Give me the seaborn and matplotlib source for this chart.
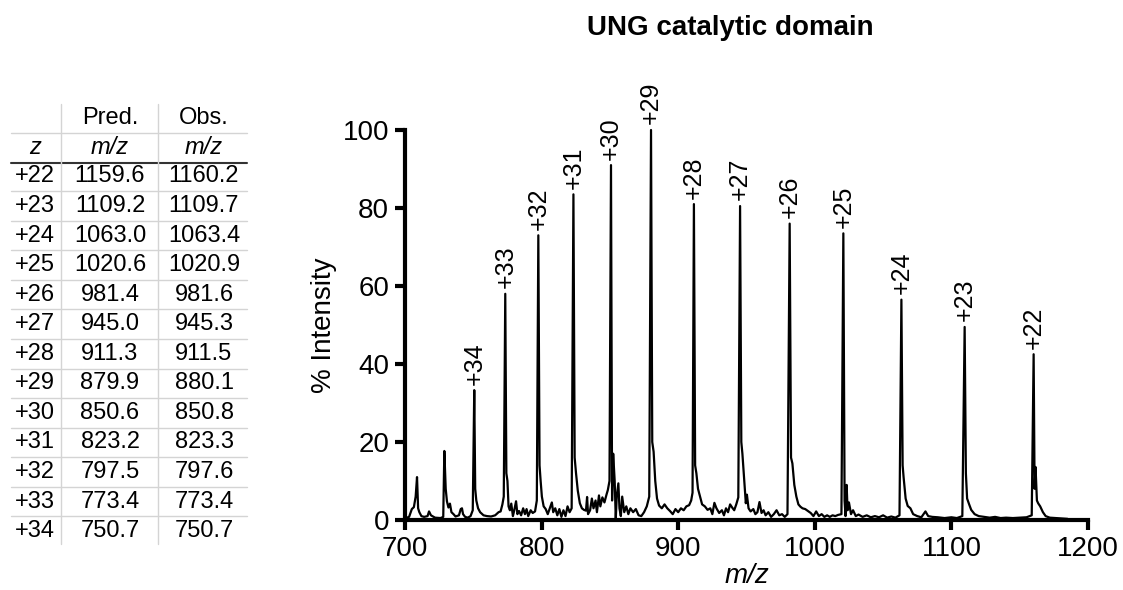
import matplotlib
matplotlib.use("Agg")
import matplotlib.pyplot as plt
import seaborn as sns
import pandas as pd

# ---------------- data ----------------
title = "UNG catalytic domain"
charges = ["+22", "+23", "+24", "+25", "+26", "+27", "+28", "+29", "+30", "+31", "+32", "+33", "+34"]
pred_mz = ["1159.6", "1109.2", "1063.0", "1020.6", "981.4", "945.0", "911.3", "879.9", "850.6", "823.2", "797.5", "773.4", "750.7"]
obs_mz = ["1160.2", "1109.7", "1063.4", "1020.9", "981.6", "945.3", "911.5", "880.1", "850.8", "823.3", "797.6", "773.4", "750.7"]
peak_heights = [42.5, 49.5, 56.5, 73.5, 76.0, 80.5, 81.0, 100.0, 91.0, 83.5, 73.0, 58.0, 33.3]

trace_mz = [700.5, 703.0, 705.0, 706.5, 707.8, 708.8, 709.6, 710.5, 712, 714, 716.5, 717.6, 719, 722, 726, 728.0,
            728.8, 729.8, 730.7, 731.8, 732.9, 734.0, 735.5, 737, 739.5, 740.8, 741.7, 742.5, 744, 746, 748, 749.6,
            750.7, 751.4, 752.2, 753.5, 755, 757.5, 760, 763, 766, 768.5, 770.0, 771.3, 772.3,
            773.4, 774.2, 775.0, 775.8, 776.8, 777.8, 779, 780.0, 781.3, 782.3, 783.5, 785, 786.5, 787.8, 789, 790.2,
            792, 793.5, 795.2, 796.5,
            797.6, 798.5, 799.3, 800.2, 801.5, 803, 804.5, 806, 807.5, 808.5, 810, 811.5, 813, 814.5, 816, 817.5,
            819, 820.5, 822.0,
            823.3, 824.2, 825.2, 826.5, 828, 829.5, 831, 832.5, 833.3, 834.0, 835.5, 836.8, 838, 839.5, 840.5, 842,
            843, 844.5, 846, 847.5, 848.5, 849.7,
            850.8, 851.6, 852.4, 853.5, 854.3, 855, 856.2, 857, 858, 859, 860.5, 862, 863.5, 865, 867, 869, 871, 873,
            875, 877, 878.8,
            880.1, 881.0, 882.0, 883.2, 884.5, 886, 888, 890, 892, 894, 896, 898, 900, 902, 904, 906, 908, 909.5, 910.5,
            911.5, 912.4, 913.3, 914.5, 916, 917.5, 919.5, 921.5, 923.5, 925, 926.5, 928, 930, 932, 933.5, 935,
            936.5, 938, 939.5, 941, 942.5, 944.0,
            945.3, 946.2, 947.0, 948.3, 949.5, 950.3, 951.5, 953, 955, 956.5, 958, 959.5, 961, 962.5, 964, 966, 968,
            970, 972, 974, 976, 978, 980.0,
            981.6, 982.6, 983.6, 985, 986.5, 988, 989.5, 991, 993, 995, 997, 999, 1001, 1003, 1005, 1007, 1009, 1011,
            1013, 1015, 1017, 1019.5,
            1020.9, 1021.8, 1022.5, 1023.3, 1024, 1025, 1026.5, 1028, 1030, 1032, 1035, 1038, 1041, 1044, 1047,
            1050, 1053, 1056, 1059, 1062,
            1063.4, 1064.3, 1065.0, 1066.5, 1068, 1070, 1072, 1075, 1078, 1081, 1083, 1086, 1090, 1095, 1100, 1104,
            1108,
            1109.7, 1110.6, 1111.5, 1113, 1114.5, 1117, 1120, 1124, 1128, 1132, 1136, 1140, 1145, 1150, 1155, 1158.8,
            1160.2, 1160.9, 1161.6, 1162.6, 1163.5, 1165, 1167, 1169, 1172, 1176, 1180, 1185]
trace_int = [0.5, 0.8, 2.8, 3.3, 6, 11.0, 3.0, 2.0, 1.0, 0.8, 1.0, 2.2, 1.2, 0.6, 0.5, 0.8,
             17.7, 8, 4.8, 3.2, 4.2, 2.0, 1.5, 0.9, 1.2, 2.8, 3.0, 1.5, 0.8, 0.6, 1.0, 2.5,
             33.3, 8, 5.0, 3.0, 2.0, 1.2, 1.0, 0.9, 1.2, 2.0, 2.2, 4.0, 6,
             58.0, 12, 10.0, 3.5, 2.5, 4.2, 1.0, 2.5, 4.8, 1.5, 2.3, 1.2, 3.0, 1.5, 2.8, 1.0,
             2.5, 1.8, 2.2, 5,
             73.0, 14, 10.0, 6, 3.5, 2.8, 1.5, 3.0, 4.5, 2.0, 3.0, 1.2, 2.8, 0.8, 2.5, 1.0,
             3.5, 2.0, 3,
             83.5, 16, 12, 7.5, 4.3, 3.0, 2.6, 2.4, 5.9, 1.5, 2.5, 5.5, 3.0, 5.0, 2.0, 6.3,
             3.5, 5.8, 4.5, 6.5, 7.7, 10,
             91.0, 5, 17, 10, 0.3, 6, 9.4, 3, 1.0, 6.0, 2.0, 3.5, 1.5, 3.0, 2.0, 2.8, 1.2, 1.0,
             2.0, 3.5, 6,
             100.0, 20, 17.5, 10.0, 5.5, 3.7, 3.0, 4.0, 3.0, 2.3, 1.5, 2.8, 2.0, 3.0, 2.5, 3.5, 3.8, 5.0, 7,
             81.0, 14, 12.0, 8, 6.0, 4, 3.5, 2.6, 3.0, 1.5, 4.4, 3.0, 1.8, 2.5, 1.2, 3.0,
             2.0, 4.0, 3.2, 2.5, 4.0, 5.8,
             80.5, 20, 17.0, 10.3, 4.3, 6.5, 3.0, 2.2, 2.8, 1.5, 2.0, 4.6, 1.8, 2.5, 1.2, 2.0, 0.8,
             1.5, 2.5, 1.2, 1.5, 0.8, 1.5,
             76.0, 16, 14.5, 9, 6.0, 4, 3.4, 3.0, 2.8, 2.3, 1.8, 1.0, 2.2, 1.0, 1.5, 0.8, 1.2, 0.8,
             1.2, 1.0, 1.3, 1.5,
             73.5, 5, 1.0, 9.0, 2.5, 4.5, 1.5, 2.5, 1.0, 1.4, 0.8, 1.2, 0.7, 1.0, 0.7,
             1.2, 0.6, 0.9, 0.6, 1.2,
             56.5, 14, 11.0, 5.5, 3.6, 3.0, 1.5, 1.0, 0.7, 2.2, 1.0, 0.8, 0.7, 0.5, 0.7, 0.5,
             1.0,
             49.5, 12, 5.5, 4, 2.6, 1.5, 1.0, 0.8, 0.6, 0.8, 0.5, 0.6, 0.5, 0.6, 0.7, 1.2,
             42.5, 8, 13.6, 5, 4.3, 3.5, 2.0, 1.0, 0.6, 0.5, 0.4, 0.3]

x_ticks = [700, 800, 900, 1000, 1100, 1200]
y_ticks = [0, 20, 40, 60, 80, 100]

# ---------------- style ----------------
sns.set_theme(style="ticks")
plt.rcParams["font.family"] = ["Liberation Sans", "DejaVu Sans"]
plt.rcParams["text.color"] = "black"
plt.rcParams["axes.labelcolor"] = "black"

W, H = 1123, 590
fig = plt.figure(figsize=(W / 100, H / 100), dpi=100)

# ---------------- spectrum ----------------
ax = fig.add_axes([405 / W, 1 - 520 / H, (1088 - 405) / W, (520 - 130) / H])
df = pd.DataFrame({"mz": trace_mz, "intensity": trace_int})
sns.lineplot(data=df, x="mz", y="intensity", ax=ax, color="black", lw=1.6,
             estimator=None, sort=False)
ax.set_xlim(700, 1200)
ax.set_ylim(0, 100)
ax.set_xticks(x_ticks)
ax.set_yticks(y_ticks)
sns.despine(ax=ax)
for s in ["left", "bottom"]:
    ax.spines[s].set_linewidth(3)
    ax.spines[s].set_color("black")
    ax.spines[s].set_capstyle("projecting")
ax.tick_params(axis="both", direction="out", length=7.5, width=3, color="black",
               labelsize=20, pad=4, labelcolor="black")
ax.set_xlabel("m/z", fontsize=20, fontstyle="italic", labelpad=1)
ax.set_ylabel("% Intensity", fontsize=20, labelpad=4)
for line in ax.lines:
    line.set_clip_on(False)

for lab, x, h in zip(charges, obs_mz, peak_heights):
    ax.annotate(lab, xy=(float(x), h), xytext=(0, 4), textcoords="offset points",
                rotation=90, ha="center", va="bottom", fontsize=18)

fig.text(730 / W, 1 - 28 / H, title, ha="center", va="center", fontsize=20,
         fontweight="bold")

# ---------------- table ----------------
tax = fig.add_axes([0, 0, 1, 1])
tax.set_xlim(0, W)
tax.set_ylim(H, 0)
tax.axis("off")
tax.patch.set_alpha(0)

grey = "#d4d4d4"
col_x = [35, 110, 204]
row0 = 176.5
dy = 29.55
tfs = 17

tax.text(col_x[1], 118, "Pred.", ha="center", va="center", fontsize=tfs)
tax.text(col_x[2], 118, "Obs.", ha="center", va="center", fontsize=tfs)
tax.text(col_x[0], 148, "z", ha="center", va="center", fontsize=tfs, fontstyle="italic")
tax.text(col_x[1], 148, "m/z", ha="center", va="center", fontsize=tfs, fontstyle="italic")
tax.text(col_x[2], 148, "m/z", ha="center", va="center", fontsize=tfs, fontstyle="italic")

tax.plot([11, 247], [133, 133], color=grey, lw=1)
tax.plot([11, 247], [162.5, 162.5], color="#333333", lw=1.5)
for xv in [61, 158]:
    tax.plot([xv, xv], [104, 544], color=grey, lw=1)

for i, (c, p, o) in enumerate(zip(charges, pred_mz, obs_mz)):
    y = row0 + i * dy
    tax.text(col_x[0], y, c, ha="center", va="center", fontsize=tfs)
    tax.text(col_x[1], y, p, ha="center", va="center", fontsize=tfs)
    tax.text(col_x[2], y, o, ha="center", va="center", fontsize=tfs)
    if i < len(charges) - 1:
        tax.plot([11, 247], [y + dy / 2, y + dy / 2], color=grey, lw=1)

fig.savefig("out.png", dpi=100)
